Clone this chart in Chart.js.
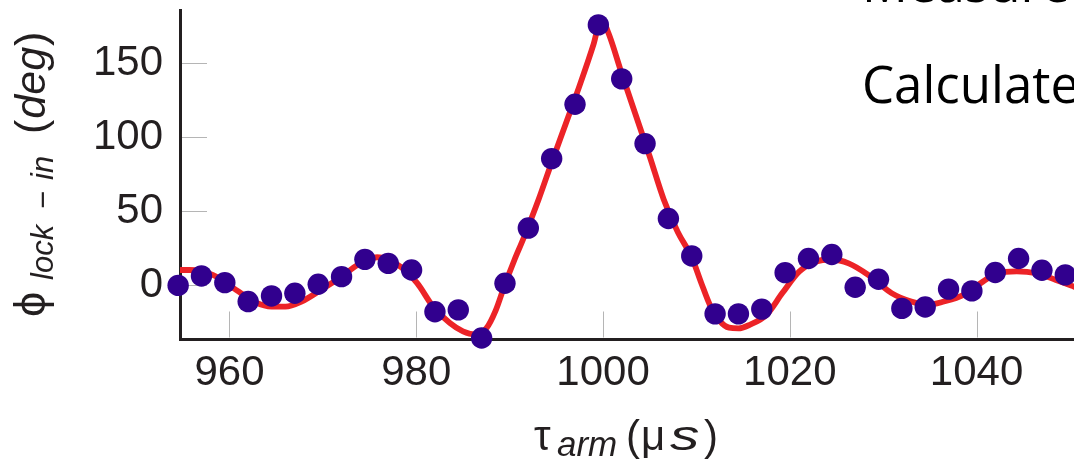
<!DOCTYPE html>
<html>
<head>
<meta charset="utf-8">
<script src="https://cdn.jsdelivr.net/npm/chart.js@4/dist/chart.umd.min.js"></script>
<style>
  html, body { margin: 0; padding: 0; background: #fff; overflow: hidden; width: 1074px; height: 461px; }
  #wrap { position: absolute; left: 0; top: 0; width: 1118px; height: 461px; }
  .note { position: absolute; left: 862px; font-family: "Open Sans", sans-serif; font-size: 51px;
          line-height: 51px; color: #000; white-space: nowrap; }
</style>
</head>
<body>
<div id="wrap"><canvas id="c"></canvas></div>
<div class="note" style="top:-43px">Measured</div>
<div class="note" style="top:58px">Calculated</div>
<script>
// Arm delay τ_arm (µs) of each measurement
const delays = [954.5, 957.0, 959.5, 962.0, 964.5, 967.0, 969.5, 972.0, 974.5, 977.0,
                979.5, 982.0, 984.5, 987.0, 989.5, 992.0, 994.5, 997.0, 999.5, 1002.0,
                1004.5, 1007.0, 1009.5, 1012.0, 1014.5, 1017.0, 1019.5, 1022.0, 1024.5, 1027.0,
                1029.5, 1032.0, 1034.5, 1037.0, 1039.5, 1042.0, 1044.5, 1047.0, 1049.5];
// Measured lock-in phase (deg)
const phases = [0, 6.4, 1.9, -10.9, -7.1, -5.3, 0.8, 5.9, 17.6, 14.9,
                10.4, -17.8, -16.5, -35.5, 1.5, 38.7, 85.6, 122.3, 175.8, 139.4,
                95.7, 45.2, 19.9, -19.2, -19.2, -16.0, 8.6, 18.2, 20.9, -1.2,
                4.2, -15.5, -14.6, -2.5, -3.7, 8.7, 18.2, 10.2, 7.1];
// Calculated phase curve
const fitDelays = [954.7, 955.7, 958.2, 960.7, 962.8, 964.5, 966.0, 967.7, 969.8, 972.0,
                   973.7, 975.8, 978.3, 980.1, 981.8, 983.6, 985.0, 986.3, 987.5, 988.5,
                   989.4, 990.5, 991.5, 993.1, 994.5, 996.0, 997.5, 999.0, 999.8, 1000.6,
                   1002.0, 1003.5, 1005.0, 1006.5, 1008.0, 1009.5, 1010.5, 1011.5, 1012.5, 1013.5,
                   1014.5, 1015.7, 1017.5, 1019.2, 1021.0, 1022.75, 1024.5, 1026.3, 1028.4, 1029.5,
                   1030.9, 1033.0, 1034.75, 1036.5, 1038.6, 1040.7, 1042.2, 1044.3, 1046.4, 1048.5,
                   1050.5, 1052.5, 1054.5];
const fitPhases = [10.4, 10.4, 7.1, -3, -11.5, -14.3, -14.3, -10.9, -3, 5.9,
                   13.8, 19, 12.7, 1.5, -14.3, -25.4, -31, -33, -29, -17,
                   -1, 17, 32, 58, 83, 109, 135, 163, 180, 170,
                   143, 115, 87, 58, 36, 19, 2, -14, -24, -28.5,
                   -29, -26.6, -19.9, -5.2, 9.3, 16, 17.5, 14.9, 7.1, 1.5,
                   -5.2, -10.9, -13.1, -10.9, -6.4, 2.6, 8.2, 9.5, 8.2, 3.7,
                   -1, -5, -8];
const xTicks = [960, 980, 1000, 1020, 1040];
const yTicks = [0, 50, 100, 150];

const INK = '#231f20';
const FONT = '"Liberation Sans", Arial, Helvetica, sans-serif';

// short grey tick marks pointing into the plot
const inwardTicks = {
  id: 'inwardTicks',
  beforeDatasetsDraw(chart) {
    const { ctx, chartArea: a, scales: { x, y } } = chart;
    ctx.save();
    ctx.strokeStyle = '#b5b5b5';
    ctx.lineWidth = 1;
    ctx.beginPath();
    x.ticks.forEach(t => {
      const px = Math.round(x.getPixelForValue(t.value)) + 0.5;
      ctx.moveTo(px, a.bottom - 2);
      ctx.lineTo(px, a.bottom - 28);
    });
    y.ticks.forEach(t => {
      const py = Math.round(y.getPixelForValue(t.value)) + 0.5;
      ctx.moveTo(a.left + 2, py);
      ctx.lineTo(a.left + 27, py);
    });
    ctx.stroke();
    ctx.restore();
  }
};

// axis titles with subscripts and italics
const axisTitles = {
  id: 'axisTitles',
  afterDraw(chart) {
    const ctx = chart.ctx;
    ctx.save();
    ctx.fillStyle = INK;
    ctx.textBaseline = 'alphabetic';
    ctx.textAlign = 'left';

    // vertical title: ϕ_lock−in (deg)
    ctx.save();
    ctx.translate(45, 317);
    ctx.rotate(-Math.PI / 2);
    ctx.font = '45px ' + FONT;
    ctx.fillText('ϕ', 0, 0);
    ctx.font = 'italic 31px ' + FONT;
    ctx.fillText('lock', 37, 8);
    ctx.font = '31px ' + FONT;
    ctx.fillText('−', 108, 8);
    ctx.font = 'italic 31px ' + FONT;
    ctx.fillText('in', 137, 8);
    let u = 183;
    ctx.font = '43px ' + FONT;
    ctx.fillText('(', u, 0);
    u += ctx.measureText('(').width + 1;
    ctx.font = 'italic 43px ' + FONT;
    ctx.fillText('deg', u, 0);
    u += ctx.measureText('deg').width + 1;
    ctx.font = '43px ' + FONT;
    ctx.fillText(')', u, 0);
    ctx.restore();

    // horizontal title: τ_arm (µs)
    ctx.font = '42px ' + FONT;
    ctx.fillText('τ', 534, 450);
    ctx.font = 'italic 35px ' + FONT;
    ctx.fillText('arm', 557, 456);
    ctx.font = '42px ' + FONT;
    ctx.fillText('(', 626, 450);
    ctx.fillText('μ', 641, 450);
    ctx.save();
    ctx.translate(670, 450);
    ctx.scale(1.4, 1);
    ctx.font = 'italic 42px ' + FONT;
    ctx.fillText('s', 0, 0);
    ctx.restore();
    ctx.font = '42px ' + FONT;
    ctx.fillText(')', 704, 450);
    ctx.restore();
  }
};

new Chart(document.getElementById('c'), {
  type: 'scatter',
  data: {
    datasets: [
      {
        label: 'Measured',
        data: delays.map((d, i) => ({ x: d, y: phases[i] })),
        showLine: false,
        pointRadius: 10.7,
        pointBorderWidth: 0,
        pointBackgroundColor: '#31008e',
        clip: false,
        order: 0
      },
      {
        label: 'Calculated',
        data: fitDelays.map((d, i) => ({ x: d, y: fitPhases[i] })),
        showLine: true,
        borderColor: '#ec2327',
        borderWidth: 5.8,
        pointRadius: 0,
        cubicInterpolationMode: 'monotone',
        clip: false,
        order: 1
      }
    ]
  },
  options: {
    responsive: true,
    maintainAspectRatio: false,
    animation: false,
    events: [],
    layout: { padding: { top: 10, left: 0, right: 0, bottom: 0 } },
    plugins: { legend: { display: false }, tooltip: { enabled: false } },
    scales: {
      x: {
        type: 'linear',
        position: 'bottom',
        min: 954.7,
        max: 1054,
        afterFit: s => { s.height = 121.5; s.paddingLeft = 0; s.paddingRight = 0; },
        afterBuildTicks: s => { s.ticks = xTicks.map(v => ({ value: v })); },
        grid: { display: false, drawTicks: false },
        border: { display: true, color: INK, width: 3 },
        ticks: {
          color: INK, font: { family: FONT, size: 42 }, padding: 9,
          maxRotation: 0, autoSkip: false, callback: v => String(v)
        }
      },
      y: {
        type: 'linear',
        position: 'left',
        min: -36.5,
        max: 185.4,
        afterFit: s => { s.width = 180; s.paddingTop = 0; s.paddingBottom = 0; },
        afterBuildTicks: s => { s.ticks = yTicks.map(v => ({ value: v })); },
        grid: { display: false, drawTicks: false },
        border: { display: true, color: INK, width: 3 },
        ticks: {
          color: INK, font: { family: FONT, size: 42 }, padding: 17,
          autoSkip: false, callback: v => String(v)
        }
      }
    }
  },
  plugins: [inwardTicks, axisTitles]
});
</script>
</body>
</html>
